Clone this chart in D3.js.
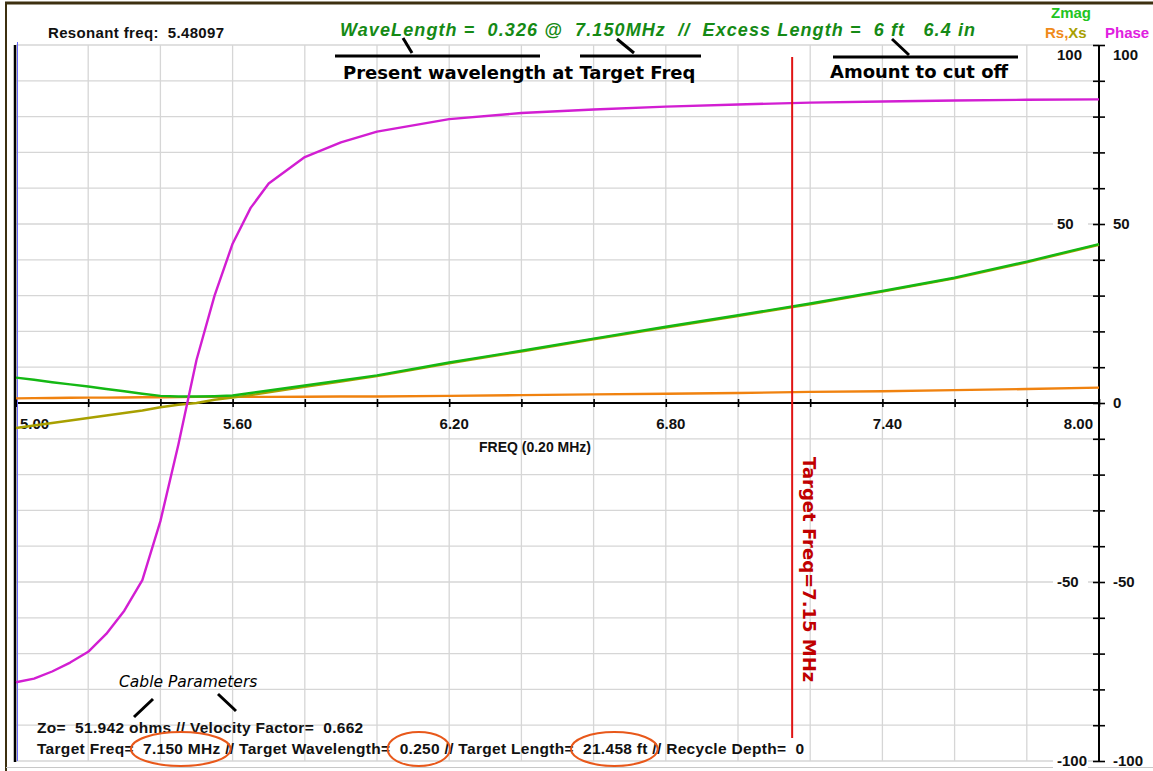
<!DOCTYPE html>
<html>
<head>
<meta charset="utf-8">
<script src="https://cdn.jsdelivr.net/npm/d3@7"></script>
<style>
  body { margin: 0; background: #fff; }
  svg { display: block; }
  text { font-family: "Liberation Sans", Arial, sans-serif; white-space: pre; }
  .note { font-family: "DejaVu Sans", sans-serif; }
</style>
</head>
<body>
<svg id="chart" width="1153" height="771"></svg>
<script>
// sweep data
const freqs = [5.00, 5.05, 5.10, 5.15, 5.20, 5.25, 5.30, 5.35, 5.40, 5.45, 5.50, 5.55, 5.60, 5.65,
               5.70, 5.80, 5.90, 6.00, 6.20, 6.40, 6.60, 6.80, 7.00, 7.20, 7.40, 7.60, 7.80, 8.00];
const zmag  = [7.1, 6.5, 5.8, 5.2, 4.6, 3.9, 3.3, 2.6, 2.0, 1.8, 1.8, 1.9, 2.1, 2.8,
               3.5, 4.9, 6.3, 7.7, 11.3, 14.6, 18.0, 21.3, 24.5, 27.8, 31.3, 35.0, 39.5, 44.4];
const rs    = [1.3, 1.35, 1.4, 1.45, 1.5, 1.5, 1.55, 1.6, 1.6, 1.65, 1.7, 1.7, 1.7, 1.7,
               1.7, 1.75, 1.8, 1.8, 2.0, 2.2, 2.4, 2.6, 2.8, 3.1, 3.3, 3.6, 3.9, 4.3];
const xs    = [-7.0, -6.3, -5.6, -4.9, -4.2, -3.5, -2.8, -2.1, -1.2, -0.5, 0.0, 0.9, 1.5, 2.2,
               3.0, 4.5, 6.0, 7.5, 11.1, 14.4, 17.8, 21.1, 24.3, 27.6, 31.1, 34.8, 39.3, 44.2];
const phase = [-78, -77, -75, -72.5, -69.5, -64.5, -58, -49.5, -33, -11.5, 12, 30, 44.5, 54.5,
               61.3, 68.7, 72.8, 75.8, 79.3, 81, 82, 82.8, 83.4, 83.9, 84.2, 84.5, 84.7, 84.8];

const xTickValues = [5.0, 5.6, 6.2, 6.8, 7.4, 8.0];
const xTickLabels = ['5.00', '5.60', '6.20', '6.80', '7.40', '8.00'];
const leftTickValues = [100, 50, -50, -100];
const rightTickValues = [100, 50, 0, -50, -100];
const targetFreq = 7.15;

const resonantText = 'Resonant freq:  5.48097';
const waveText = 'WaveLength =  0.326 @  7.150MHz  //  Excess Length =  6 ft   6.4 in';
const cableLine = 'Zo=  51.942 ohms // Velocity Factor=  0.662';
const targetLine = 'Target Freq=  7.150 MHz // Target Wavelength=  0.250 // Target Length=  21.458 ft // Recycle Depth=  0';
const circled = ['7.150 MHz', '0.250', '21.458 ft'];

const svg = d3.select('#chart');

const x = d3.scaleLinear().domain([5, 8]).range([16, 1099]);
const y = d3.scaleLinear().domain([-100, 100]).range([761, 45]);

// window frame
svg.append('line').attr('x1', 5).attr('x2', 1153).attr('y1', 3).attr('y2', 3)
    .attr('stroke', '#3d3010').attr('stroke-width', 3);
svg.append('line').attr('x1', 6).attr('x2', 6).attr('y1', 2).attr('y2', 771)
    .attr('stroke', '#3d3010').attr('stroke-width', 2);
svg.append('line').attr('x1', 6).attr('x2', 1153).attr('y1', 767.5).attr('y2', 767.5)
    .attr('stroke', '#c8c8c8').attr('stroke-width', 1);

// grid
const grid = svg.append('g').attr('stroke', '#d6d6d6').attr('stroke-width', 1.3);
grid.selectAll('.vg')
    .data(d3.range(0, 16).map(i => 5 + i * 0.2))
    .enter().append('line')
    .attr('x1', d => x(d)).attr('x2', d => x(d))
    .attr('y1', y(100)).attr('y2', y(-100));
grid.selectAll('.hg')
    .data(d3.range(-100, 101, 10))
    .enter().append('line')
    .attr('x1', x(5)).attr('x2', x(8))
    .attr('y1', d => y(d)).attr('y2', d => y(d));

// zero line with ticks
svg.append('line').attr('x1', x(5)).attr('x2', x(8)).attr('y1', y(0)).attr('y2', y(0))
    .attr('stroke', '#000').attr('stroke-width', 2);
const xAxis = d3.axisBottom(x)
    .tickValues(d3.range(0, 16).map(i => 5 + i * 0.2))
    .tickSize(8).tickFormat('');
const xAxisG = svg.append('g').attr('transform', `translate(0,${y(0) - 4})`).call(xAxis);
xAxisG.select('.domain').remove();
xAxisG.selectAll('.tick line').attr('stroke', '#000').attr('stroke-width', 1.6);

svg.selectAll('.xlab')
    .data(xTickValues)
    .enter().append('text')
    .attr('x', (d, i) => i === 0 ? x(d) + 4 : i === xTickValues.length - 1 ? x(d) - 6 : x(d) + 5)
    .attr('y', 429)
    .attr('text-anchor', (d, i) => i === 0 ? 'start' : i === xTickValues.length - 1 ? 'end' : 'middle')
    .attr('font-size', 15).attr('font-weight', 'bold').attr('fill', '#111')
    .text((d, i) => xTickLabels[i]);

svg.append('text').attr('x', 535).attr('y', 452).attr('text-anchor', 'middle')
    .attr('font-size', 14).attr('font-weight', 'bold').attr('fill', '#111')
    .text('FREQ (0.20 MHz)');

// right axis
svg.append('line').attr('x1', x(8)).attr('x2', x(8)).attr('y1', y(100)).attr('y2', y(-100))
    .attr('stroke', '#000').attr('stroke-width', 2);
const yAxis = d3.axisRight(y).tickValues(d3.range(-100, 101, 10)).tickSize(12).tickFormat('');
const yAxisG = svg.append('g').attr('transform', `translate(${x(8) - 6},0)`).call(yAxis);
yAxisG.select('.domain').remove();
yAxisG.selectAll('.tick line').attr('stroke', '#000').attr('stroke-width', 1.6);

svg.selectAll('.lbox')
    .data(leftTickValues)
    .enter().append('rect')
    .attr('x', 1053).attr('width', 35)
    .attr('y', d => (d === 100 ? y(d) + 10 : y(d)) - 8).attr('height', 16)
    .attr('fill', '#fff');
svg.selectAll('.llab')
    .data(leftTickValues)
    .enter().append('text')
    .attr('x', 1057)
    .attr('y', d => (d === 100 ? y(d) + 10 : y(d)) + 5)
    .attr('font-size', 15).attr('font-weight', 'bold').attr('fill', '#111')
    .text(d => d);
svg.selectAll('.rlab')
    .data(rightTickValues)
    .enter().append('text')
    .attr('x', 1113)
    .attr('y', d => (d === 100 ? y(d) + 10 : y(d)) + 5)
    .attr('font-size', 15).attr('font-weight', 'bold').attr('fill', '#111')
    .text(d => d);

// left edge of plot
svg.append('line').attr('x1', 15).attr('x2', 15).attr('y1', y(100)).attr('y2', y(-100) + 1)
    .attr('stroke', '#000').attr('stroke-width', 2.5);
svg.append('line').attr('x1', 17.5).attr('x2', 17.5).attr('y1', y(100) - 3).attr('y2', y(-100))
    .attr('stroke', '#6a6aff').attr('stroke-width', 1);

// traces
const traces = [
    { values: rs, color: '#f0820f' },
    { values: xs, color: '#a8a000' },
    { values: zmag, color: '#14b814' },
    { values: phase, color: '#d21ed2' }
];
const line = d3.line().x(d => x(d[0])).y(d => y(d[1]));
svg.selectAll('.trace')
    .data(traces)
    .enter().append('path')
    .attr('d', t => line(freqs.map((f, i) => [f, t.values[i]])))
    .attr('fill', 'none')
    .attr('stroke', t => t.color)
    .attr('stroke-width', 2.4)
    .attr('stroke-linejoin', 'round');

// target marker
svg.append('line')
    .attr('x1', x(targetFreq)).attr('x2', x(targetFreq))
    .attr('y1', 57).attr('y2', 738)
    .attr('stroke', '#e01414').attr('stroke-width', 2);
svg.append('text').attr('class', 'note')
    .attr('transform', `translate(${x(targetFreq) + 11},457) rotate(90)`)
    .attr('font-size', 18).attr('font-weight', 'bold').attr('fill', '#c00000')
    .text('Target Freq=7.15 MHz');

// header
svg.append('text').attr('x', 48).attr('y', 38)
    .attr('font-size', 15).attr('font-weight', 'bold').attr('letter-spacing', 0.35).attr('fill', '#111')
    .text(resonantText);
svg.append('text').attr('x', 340).attr('y', 36)
    .attr('font-size', 18).attr('font-weight', 'bold').attr('font-style', 'italic')
    .attr('letter-spacing', 1.1).attr('fill', '#158a15')
    .text(waveText);
svg.append('text').attr('x', 1071).attr('y', 18).attr('text-anchor', 'middle')
    .attr('font-size', 15).attr('font-weight', 'bold').attr('fill', '#22c422').text('Zmag');
const rsxs = svg.append('text').attr('x', 1045).attr('y', 38)
    .attr('font-size', 15).attr('font-weight', 'bold');
rsxs.append('tspan').attr('fill', '#f08a1a').text('Rs,');
rsxs.append('tspan').attr('fill', '#a8a000').text('Xs');
svg.append('text').attr('x', 1105).attr('y', 38)
    .attr('font-size', 15).attr('font-weight', 'bold').attr('fill', '#e020e0').text('Phase');

// hand-drawn callouts
const callouts = svg.append('g').attr('stroke', '#000').attr('stroke-width', 3);
[[335, 56, 540, 56], [403, 38, 412, 53], [580, 56, 701, 56], [617, 39, 634, 53],
 [833, 57, 1018, 57], [892, 39, 909, 55],
 [153, 699, 134, 717], [218, 694, 236, 711]].forEach(s => {
    callouts.append('line').attr('x1', s[0]).attr('y1', s[1]).attr('x2', s[2]).attr('y2', s[3]);
});
svg.append('text').attr('class', 'note').attr('x', 343).attr('y', 79)
    .attr('font-size', 18).attr('font-weight', 'bold').attr('fill', '#000')
    .text('Present wavelength at Target Freq');
svg.append('text').attr('class', 'note').attr('x', 830).attr('y', 78)
    .attr('font-size', 18).attr('font-weight', 'bold').attr('fill', '#000')
    .text('Amount to cut off');
svg.append('text').attr('class', 'note').attr('x', 119).attr('y', 687)
    .attr('font-size', 15.5).attr('font-style', 'italic').attr('fill', '#000')
    .text('Cable Parameters');

// cable parameter lines
svg.append('text').attr('x', 37).attr('y', 733)
    .attr('font-size', 15.5).attr('font-weight', 'bold').attr('letter-spacing', 0.3).attr('fill', '#111')
    .text(cableLine);
const target = svg.append('text').attr('x', 37).attr('y', 754)
    .attr('font-size', 15.5).attr('font-weight', 'bold').attr('letter-spacing', 0.3).attr('fill', '#111')
    .text(targetLine);

const tNode = target.node();
circled.forEach(s => {
    const idx = targetLine.indexOf(s);
    const start = tNode.getStartPositionOfChar(idx).x;
    const end = tNode.getEndPositionOfChar(idx + s.length - 1).x;
    svg.append('ellipse')
        .attr('cx', (start + end) / 2 - 1)
        .attr('cy', 749)
        .attr('rx', (end - start) / 2 + 11)
        .attr('ry', 17)
        .attr('fill', 'none')
        .attr('stroke', '#e8581a')
        .attr('stroke-width', 2);
});
</script>
</body>
</html>
